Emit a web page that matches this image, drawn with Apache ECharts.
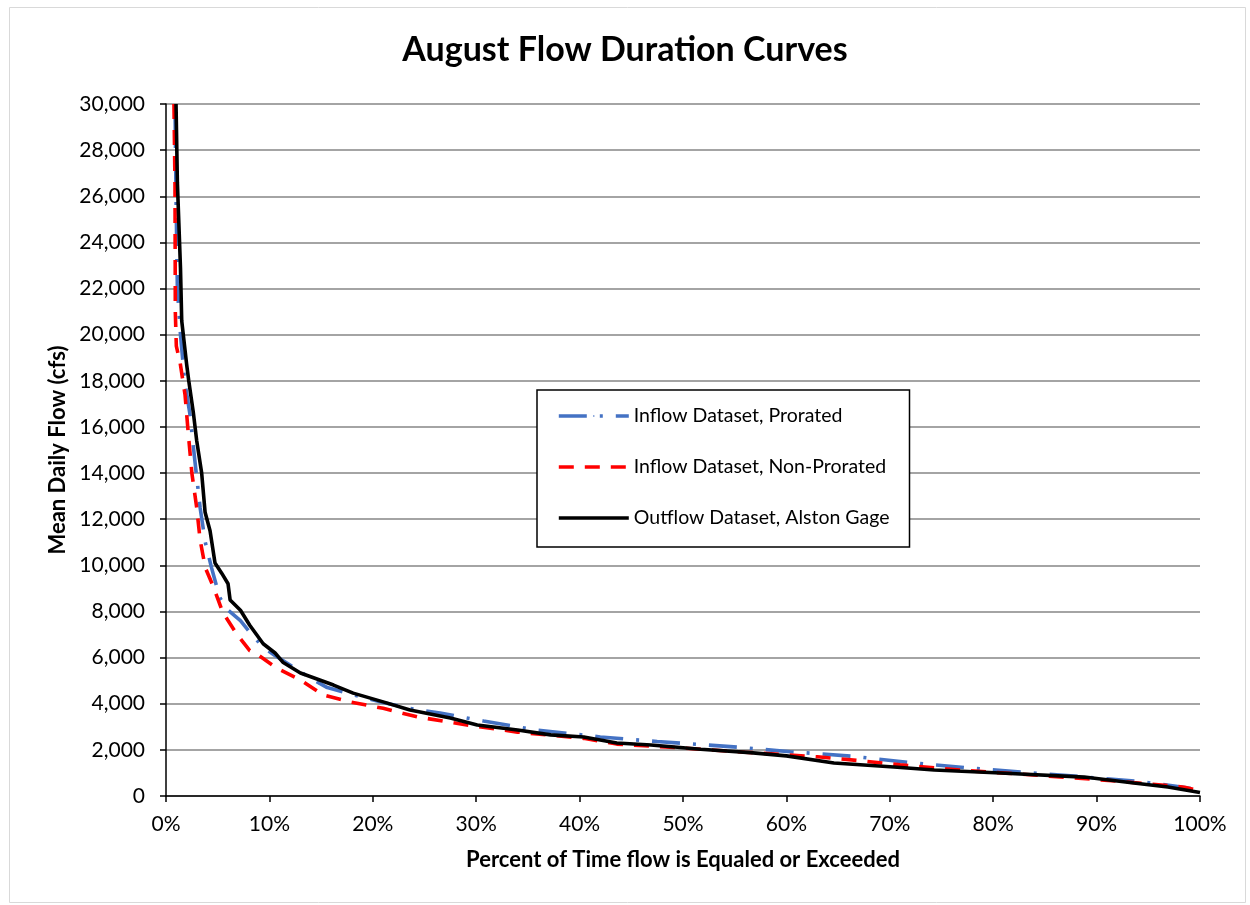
<!DOCTYPE html>
<html>
<head>
<meta charset="utf-8">
<script src="https://cdn.jsdelivr.net/npm/echarts@6/dist/echarts.min.js"></script>
<style>
html,body{margin:0;padding:0;background:#fff;}
#chart{width:1250px;height:905px;}
</style>
</head>
<body>
<div id="chart"></div>
<script>
const titleText = "August Flow Duration Curves";
const xAxisTitle = "Percent of Time flow is Equaled or Exceeded";
const yAxisTitle = "Mean Daily Flow (cfs)";
const seriesNames = ["Inflow Dataset, Prorated", "Inflow Dataset, Non-Prorated", "Outflow Dataset, Alston Gage"];

// [percent of time, flow cfs]
const proratedData = [[0.87,30000],[0.97,26000],[1.1,22000],[1.4,20000],[1.8,18000],[2.3,16600],[2.8,14500],[3.3,12500],[3.8,11000],[4.4,9900],[5.2,8600],[5.9,8100],[7.2,7600],[8.1,7100],[9.4,6450],[10.5,6100],[12.6,5500],[14,5100],[15.6,4700],[18,4400],[21,4050],[24.3,3730],[26.5,3600],[30.7,3250],[35.5,2880],[42,2560],[47.5,2360],[54.9,2130],[60.4,1920],[66.2,1730],[72,1450],[77.5,1220],[83.3,1020],[89,820],[94.3,620],[97.5,430],[100,260]];
const nonProratedData = [[0.77,30000],[0.87,26500],[0.9,21000],[1.0,19500],[1.36,18800],[1.84,17400],[2.16,15700],[2.5,14000],[2.97,12500],[3.3,11100],[3.8,9900],[4.6,9050],[5.5,7950],[6.8,7050],[8.1,6300],[8.8,6150],[10.7,5550],[13,5030],[15.2,4380],[17.8,4080],[21,3800],[24.3,3430],[29.1,3080],[34,2770],[40.4,2500],[43.6,2250],[50,2080],[56,1900],[63,1700],[67.8,1500],[71,1350],[77.5,1100],[83.9,910],[90.4,700],[95,530],[98.5,380],[100,220]];
const outflowData = [[0.97,30000],[1.1,26600],[1.4,22900],[1.52,20600],[2.0,18700],[2.2,18000],[2.65,16600],[2.97,15400],[3.45,14000],[3.78,12300],[4.26,11500],[4.74,10100],[5.4,9650],[6.0,9200],[6.2,8500],[7.2,8050],[8.1,7400],[9.4,6600],[10.55,6200],[11.3,5800],[13,5330],[16.2,4810],[18.1,4460],[21,4080],[23.6,3730],[27.5,3380],[30.1,3080],[34,2860],[37.2,2650],[40.4,2560],[43.6,2300],[46.9,2210],[51.7,2030],[56.5,1880],[60,1740],[64.6,1430],[70.4,1260],[74.3,1130],[80.7,1000],[88.8,820],[93.6,560],[96.9,390],[100,150]];

const FONT = "Lato, 'Open Sans', sans-serif";
const chart = echarts.init(document.getElementById('chart'), null, {renderer:'canvas'});
chart.setOption({
  backgroundColor: '#fff',
  animation: false,
  title: {
    text: titleText, left: 'center', top: 28,
    textStyle: {fontFamily: FONT, fontSize: 34, fontWeight: 'bold', color: '#000'}
  },
  graphic: [{
    type: 'rect', left: 7, top: 5, shape: {width: 1236, height: 895},
    style: {fill: 'none', stroke: '#d9d9d9', lineWidth: 1}, z: -1
  }],
  grid: {left: 166, top: 104, right: 50, bottom: 109, containLabel: false},
  xAxis: {
    type: 'value', min: 0, max: 100, interval: 10,
    name: xAxisTitle, nameLocation: 'middle', nameGap: 53,
    nameTextStyle: {fontFamily: FONT, fontSize: 22, fontWeight: 'bold', color: '#000'},
    axisLine: {show: true, lineStyle: {color: '#000', width: 1.5}},
    axisTick: {show: true, inside: false, length: 6, lineStyle: {color: '#000', width: 1.5}},
    axisLabel: {formatter: v => v + '%', fontFamily: FONT, fontSize: 21, color: '#000', margin: 18},
    splitLine: {show: false}
  },
  yAxis: {
    type: 'value', min: 0, max: 30000, interval: 2000,
    name: yAxisTitle, nameLocation: 'middle', nameGap: 96, nameRotate: 90,
    nameTextStyle: {fontFamily: FONT, fontSize: 22, fontWeight: 'bold', color: '#000'},
    axisLine: {show: true, lineStyle: {color: '#000', width: 1.5}},
    axisTick: {show: true, inside: false, length: 6, lineStyle: {color: '#000', width: 1.5}},
    axisLabel: {formatter: v => v.toLocaleString('en-US'), fontFamily: FONT, fontSize: 21, color: '#000', margin: 21},
    splitLine: {show: true, lineStyle: {color: '#868686', width: 1.5}}
  },
  legend: {
    orient: 'vertical', left: 537, top: 390,
    backgroundColor: '#fff', borderColor: '#000', borderWidth: 1.5,
    padding: [15, 20, 18, 20],
    itemWidth: 70, itemHeight: 2, itemGap: 29,
    lineStyle: {width: 3.6},
    textStyle: {fontFamily: FONT, fontSize: 19.5, color: '#000', lineHeight: 22},
    data: seriesNames
  },
  series: [
    {name: seriesNames[0], type: 'line', data: proratedData, showSymbol: false, symbol: 'none',
     lineStyle: {color: '#4472C4', width: 3.6, type: [28, 13, 3, 13]}, itemStyle: {color: '#4472C4'}, z: 2},
    {name: seriesNames[1], type: 'line', data: nonProratedData, showSymbol: false, symbol: 'none',
     lineStyle: {color: '#FF0000', width: 3.6, type: [15, 11]}, itemStyle: {color: '#FF0000'}, z: 3},
    {name: seriesNames[2], type: 'line', data: outflowData, showSymbol: false, symbol: 'none',
     lineStyle: {color: '#000', width: 3.6}, itemStyle: {color: '#000'}, z: 4}
  ]
});
</script>
</body>
</html>
